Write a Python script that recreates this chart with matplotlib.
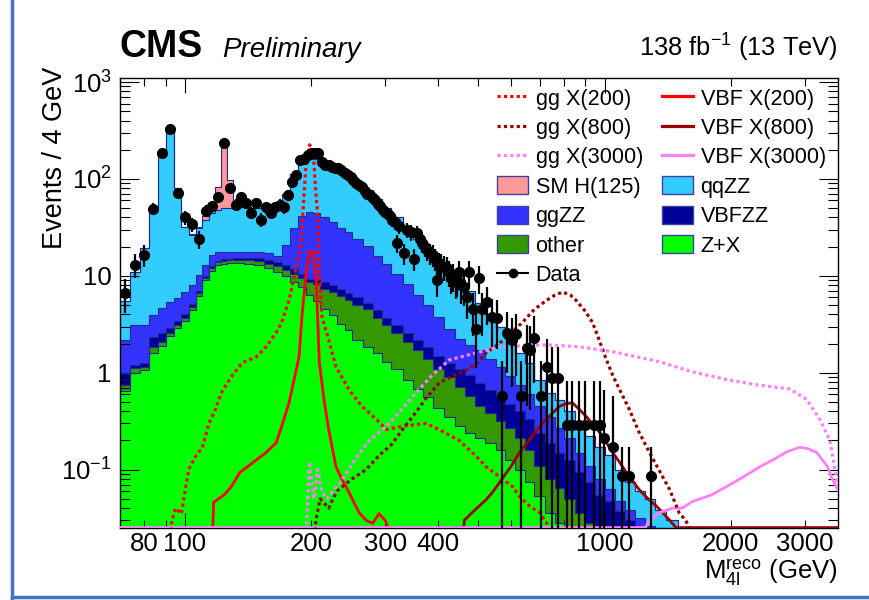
import numpy as np
import matplotlib
matplotlib.use("Agg")
import matplotlib.pyplot as plt
from matplotlib.lines import Line2D
from matplotlib.patches import Patch
from matplotlib.ticker import FixedLocator, FuncFormatter, LogLocator, NullFormatter

plt.rcParams['font.family'] = ['Liberation Sans', 'DejaVu Sans']
plt.rcParams['mathtext.fontset'] = 'custom'
plt.rcParams['mathtext.rm'] = 'Liberation Sans'
plt.rcParams['mathtext.it'] = 'Liberation Sans:italic'
plt.rcParams['mathtext.bf'] = 'Liberation Sans:bold'

# ---------------- background bins (events / 4 GeV) ----------------
bin_edges = [70, 74, 78, 82, 86, 90, 94, 98, 102, 106, 110, 114, 118, 122, 126, 130,
             138, 146, 154, 162, 170, 178, 186, 194, 202, 210, 220, 230, 240, 250,
             265, 280, 295, 310, 330, 350, 370, 390, 415, 440, 465, 490, 520, 550,
             580, 610, 645, 680, 720, 760, 800, 850, 900, 950, 1000, 1060, 1120,
             1180, 1250, 1320, 1400, 1500, 1600]

zx = [0.65, 1.0, 1.07, 1.6, 1.9, 2.4, 2.9, 3.4, 4.4, 6.2,
      9.0, 11.3, 12.8, 13.2, 13.5, 13.6, 13.4, 12.9, 12.0, 11.0,
      9.9, 8.7, 7.6, 6.3, 5.5, 4.6, 3.9, 3.2, 2.75, 2.2,
      1.85, 1.58, 1.3, 1.1, 0.85, 0.68, 0.56, 0.43, 0.35, 0.28,
      0.24, 0.21, 0.19, 0.16, 0.125, 0.1, 0.075, 0.053, 0.036, 0.028,
      0, 0, 0, 0, 0, 0, 0, 0, 0, 0, 0, 0]

other = [0.10, 0.12, 0.08, 0.25, 0.2, 0.2, 0.2, 0.3, 0.4, 0.4,
         0.6, 0.7, 1.0, 1.0, 0.9, 1.0, 1.1, 1.3, 1.4, 1.5,
         1.7, 1.8, 1.9, 2.3, 2.7, 2.8, 2.9, 3.0, 2.85, 2.8,
         2.65, 2.12, 1.8, 1.5, 1.25, 1.02, 0.84, 0.67, 0.55, 0.44,
         0.34, 0.24, 0.19, 0.16, 0.145, 0.11, 0.085, 0.057, 0.044, 0.037,
         0.05, 0.036, 0.028, 0.02, 0, 0, 0, 0, 0, 0, 0, 0]

vbfzz = [0.25, 0.08, 0.10, 0.5, 0.5, 0.3, 0.3, 0.3, 0.3, 0.4,
         0.4, 0.5, 0.5, 0.6, 0.6, 0.7, 0.8, 1.0, 1.2, 1.3,
         1.4, 1.3, 0.9, 0.7, 0.8, 1.2, 1.3, 1.2, 1.1, 1.0,
         0.8, 0.7, 0.6, 0.5, 0.5, 0.5, 0.45, 0.4, 0.37, 0.38,
         0.37, 0.34, 0.29, 0.25, 0.21, 0.19, 0.17, 0.13, 0.11, 0.085,
         0.075, 0.059, 0.047, 0.035, 0.047, 0.037, 0.03, 0.022, 0, 0, 0, 0]

ggzz = [1.2, 1.9, 1.85, 1.6, 2.1, 2.5, 2.5, 2.8, 3.0, 3.2,
        3.0, 4.0, 3.3, 3.0, 2.8, 2.5, 2.5, 2.4, 2.4, 2.4,
        8.0, 19.2, 30.6, 36.2, 36.0, 31.4, 27.9, 24.1, 21.7, 18.0,
        15.2, 11.6, 9.6, 7.3, 5.6, 4.1, 3.15, 2.3, 1.53, 1.15,
        1.0, 0.94, 0.73, 0.58, 0.44, 0.35, 0.27, 0.21, 0.16, 0.12,
        0.085, 0.055, 0.035, 0.025, 0.016, 0.011, 0.008, 0.01, 0.026, 0.02, 0, 0]

qqzz = [3.3, 7.9, 16.3, 46, 172, 315, 75, 25, 18, 21,
        25, 28, 30, 32, 32, 33, 32, 32, 33, 36,
        49, 81, 107, 116, 115, 110, 103, 90, 78, 68,
        57, 46, 37, 29.6, 22.8, 17.7, 14, 10.7, 8.7, 6.75,
        5.05, 3.57, 2.6, 1.85, 1.38, 0.85, 0.65, 0.4, 0.27, 0.25,
        0.19, 0.13, 0.11, 0.09, 0.077, 0.052, 0.037, 0.028, 0.024, 0.018, 0.03, 0.022]

smh125 = [0, 0, 0, 0, 0, 0, 0, 0, 1.0, 1.0,
          3.0, 3.4, 35, 175, 48, 3.0, 0, 0, 0, 0,
          0, 0, 0, 0, 0, 0, 0, 0, 0, 0,
          0, 0, 0, 0, 0, 0, 0, 0, 0, 0,
          0, 0, 0, 0, 0, 0, 0, 0, 0, 0,
          0, 0, 0, 0, 0, 0, 0, 0, 0, 0, 0, 0]

# ---------------- signal hypotheses ----------------
ggx200_mass = [90, 93, 95, 98, 100, 102, 106, 110, 114, 118, 122, 129, 137, 148, 156, 165,
               170, 177, 184, 189, 194, 198, 202, 205, 207, 209, 212, 220, 229, 246, 264,
               286, 302, 329, 376, 410, 450, 495, 522, 561, 603, 627, 663, 700, 728, 760]
ggx200_val = [0, 0.03, 0.04, 0.035, 0.06, 0.1, 0.137, 0.17, 0.3, 0.41, 0.62, 0.91, 1.27, 1.46,
              1.85, 2.6, 3.3, 5.6, 12, 22, 130, 225, 200, 72, 45, 11.5, 3.8, 2.2, 1.15, 0.67,
              0.45, 0.33, 0.26, 0.28, 0.3, 0.25, 0.2, 0.137, 0.107, 0.085, 0.067, 0.053,
              0.042, 0.036, 0.028, 0]

vbfx200_mass = [116.5, 117, 124, 129, 135, 145, 156, 165, 170, 177, 182, 187, 190, 194, 198,
                202, 205, 209, 215, 220, 229, 237, 246, 260, 270, 280, 290, 300, 305, 310]
vbfx200_val = [0, 0.046, 0.055, 0.067, 0.093, 0.118, 0.15, 0.19, 0.28, 0.49, 0.85, 1.46, 3.8,
               9.8, 18, 18, 11.5, 1.27, 0.49, 0.26, 0.107, 0.079, 0.058, 0.036, 0.03, 0.028,
               0.035, 0.03, 0.02, 0]

ggx800_mass = [200, 205, 210, 220, 230, 250, 270, 290, 310, 330, 355, 376, 404, 440, 476, 500,
               522, 561, 600, 637, 680, 728, 760, 795, 830, 855, 900, 936, 970, 1010, 1050,
               1086, 1145, 1210, 1270, 1330, 1430, 1505, 1560, 1620, 1680]
ggx800_val = [0, 0.03, 0.05, 0.04, 0.06, 0.08, 0.1, 0.14, 0.18, 0.26, 0.39, 0.55, 0.79, 0.95,
              1.1, 1.3, 1.6, 2.0, 2.6, 3.3, 4.5, 5.6, 6.3, 6.8, 6.3, 5.6, 4.3, 3.3, 2.2, 1.36,
              0.9, 0.67, 0.42, 0.24, 0.16, 0.11, 0.062, 0.036, 0.03, 0.022, 0]

vbfx800_mass = [440, 462, 463, 480, 502, 522, 540, 561, 600, 627, 660, 710, 750, 780, 810, 838,
                870, 906, 940, 975, 1010, 1045, 1085, 1128, 1170, 1210, 1270, 1330, 1430, 1480,
                3600]
vbfx800_val = [0, 0, 0.03, 0.035, 0.042, 0.049, 0.058, 0.073, 0.11, 0.15, 0.2, 0.3, 0.38, 0.45,
               0.48, 0.49, 0.42, 0.35, 0.29, 0.24, 0.19, 0.15, 0.12, 0.093, 0.075, 0.062, 0.05,
               0.042, 0.03, 0, 0]

ggx3000_mass = [190, 195, 198, 203, 207, 212, 218, 225, 237, 256, 275, 302, 324, 355, 389, 427,
                494, 561, 650, 728, 871, 1045, 1352, 1621, 1954, 2307, 2763, 3033, 3258, 3443,
                3574, 3600]
ggx3000_val = [0, 0.03, 0.12, 0.05, 0.1, 0.06, 0.05, 0.06, 0.079, 0.133, 0.2, 0.28, 0.39, 0.62,
               0.95, 1.36, 1.6, 1.85, 1.9, 1.94, 1.85, 1.65, 1.3, 1.02, 0.85, 0.75, 0.68, 0.53,
               0.33, 0.2, 0.08, 0.06]

vbfx3000_mass = [70, 1250, 1280, 1352, 1450, 1528, 1621, 1800, 1954, 2150, 2344, 2550, 2718,
                 2917, 3050, 3205, 3400, 3490, 3600]
vbfx3000_val = [0, 0, 0.03, 0.036, 0.04, 0.04, 0.047, 0.055, 0.067, 0.085, 0.107, 0.13, 0.153,
                0.17, 0.165, 0.15, 0.107, 0.08, 0.062]

# ---------------- observed data (events / 4 GeV) ----------------
data_mass = [72, 76, 80, 84, 88, 92, 96, 100, 104, 108, 112, 116, 120, 124, 128, 132, 136, 140,
             144, 148, 152, 156, 160, 164, 168, 172, 176, 180, 184, 188, 192, 196, 200, 204,
             208, 212, 216, 220, 224, 228, 232, 236, 240, 244, 248, 252, 256, 260, 264, 268,
             272, 276, 280, 284, 288, 292, 296, 300, 304, 308, 312, 316, 320, 324,
             332, 338, 345, 352, 357, 363, 368, 373, 378, 384, 389, 394, 399, 404, 408, 414,
             420, 425, 430, 436, 442, 446, 450, 456, 463, 470, 476, 485, 495, 502, 511, 525,
             540, 555, 570, 584, 603, 615, 633, 652, 663, 680, 707, 728, 750, 774, 815, 838,
             871, 900, 946, 975, 997, 1045, 1100, 1145, 1290]
data_val = [6.7, 13, 16.5, 49, 186, 325, 72, 40, 34, 24, 47, 52, 65, 235, 81, 54, 65, 56,
            45, 56, 38, 51, 45, 51, 54, 51, 68, 93, 110, 157, 160, 177, 186, 186,
            186, 150, 139, 139, 133, 130, 130, 123, 115, 110, 105, 98, 91, 87, 83, 75,
            70, 68, 63, 60, 55, 52, 48, 46, 43, 41, 38, 36, 22, 33,
            17, 30, 28, 15, 27.6, 24, 22, 20, 18.5, 17, 16.5, 15, 9, 13.6, 13, 12.4,
            12, 11, 9.5, 10, 8.7, 9, 11, 8, 7.7, 6, 11, 4.5, 2.8, 9.5, 4.5, 5.4,
            3.8, 3.7, 0.57, 2.6, 2.2, 2.5, 0.57, 1.8, 1.73, 2.3, 0.57, 1.15, 0.89, 0.89, 0.29, 0.29,
            0.29, 0.29, 0.29, 0.29, 0.21, 0.17, 0.085, 0.085, 0.085]

# ---------------- styling ----------------
C_ZX, C_OTHER, C_VBFZZ = '#00ff00', '#339900', '#000099'
C_GGZZ, C_QQZZ, C_SMH = '#3333ff', '#33ccff', '#ff9999'
C_RED, C_DRED, C_VIOL = '#ff0000', '#990000', '#ff80ff'
EDGE = '#202a8f'

XMIN, XMAX = 70, 3600
YMIN, YMAX = 0.025, 1100

fig = plt.figure(figsize=(8.69, 6.0), dpi=100)
ax = fig.add_axes([120 / 869, 72 / 600, 718 / 869, 450 / 600])
ax.set_xscale('log')
ax.set_yscale('log')
ax.set_xlim(XMIN, XMAX)
ax.set_ylim(YMIN, YMAX)

# stacked backgrounds, bottom to top
edges = np.array(bin_edges, float)
floor = 1e-4
cum = np.zeros(len(edges) - 1)
stack = [(zx, C_ZX), (other, C_OTHER), (vbfzz, C_VBFZZ),
         (ggzz, C_GGZZ), (qqzz, C_QQZZ), (smh125, C_SMH)]
tops = []
for vals, col in stack:
    top = cum + np.array(vals, float)
    ax.stairs(np.maximum(top, floor), edges, baseline=np.maximum(cum, floor),
              fill=True, color=col, lw=0, zorder=1)
    tops.append(top)
    cum = top
for top in tops:
    ax.stairs(np.maximum(top, floor), edges, baseline=None, color=EDGE, lw=0.8, zorder=2)

DOT = (0, (1, 1))


def gg_curve(m, v, col):
    v = np.array(v, float)
    v = np.where(v > 0, v, floor)
    ax.plot(m, v, color=col, lw=2.3, ls=DOT, dash_capstyle='butt', zorder=4)


def vbf_curve(m, v, col):
    v = np.maximum(np.array(v, float), YMIN * 1.01)
    ax.plot(m, v, color=col, lw=2.0, zorder=4, solid_joinstyle='miter')


vbf_curve(vbfx200_mass, vbfx200_val, C_RED)
vbf_curve(vbfx800_mass, vbfx800_val, C_DRED)
vbf_curve(vbfx3000_mass, vbfx3000_val, C_VIOL)
gg_curve(ggx200_mass, ggx200_val, C_RED)
gg_curve(ggx800_mass, ggx800_val, C_DRED)
gg_curve(ggx3000_mass, ggx3000_val, C_VIOL)

# data with Poisson-like error bars
dm = np.array(data_mass, float)
dv = np.array(data_val, float)
err = np.where(dv < 0.15, dv, np.sqrt(dv))
lo = np.minimum(err, dv - YMIN * 0.5)
ax.errorbar(dm, dv, yerr=[lo, err], fmt='o', color='k', ms=7, elinewidth=1.6,
            capsize=0, zorder=5)

# axes, ticks
ax.xaxis.set_major_locator(FixedLocator([100, 1000]))
ax.xaxis.set_minor_locator(FixedLocator([70, 80, 90, 200, 300, 400, 500, 600, 700, 800, 900,
                                         2000, 3000]))
shown = {80, 200, 300, 400, 2000, 3000}
ax.xaxis.set_major_formatter(FuncFormatter(lambda v, p: f'{int(round(v))}'))
ax.xaxis.set_minor_formatter(FuncFormatter(
    lambda v, p: f'{int(round(v))}' if int(round(v)) in shown else ''))

ylabels = {0.1: r'$10^{-1}$', 1: '1', 10: '10', 100: r'$10^{2}$', 1000: r'$10^{3}$'}
ax.yaxis.set_major_locator(FixedLocator(list(ylabels.keys())))
ax.yaxis.set_major_formatter(FuncFormatter(
    lambda v, p: next((s for k, s in ylabels.items() if abs(v / k - 1) < 1e-6), '')))
ax.yaxis.set_minor_locator(LogLocator(base=10, subs=np.arange(2, 10)))
ax.yaxis.set_minor_formatter(NullFormatter())

ax.tick_params(which='both', direction='in', top=True, right=True, width=0.8,
               labelsize=18.5, colors='k')
ax.tick_params(axis='x', which='major', length=11, pad=3)
ax.tick_params(axis='x', which='minor', length=6, pad=3)
ax.tick_params(axis='y', which='major', length=14, pad=6)
ax.tick_params(axis='y', which='minor', length=7)
for s in ax.spines.values():
    s.set_linewidth(1.0)
ax.set_zorder(2)

# legends (two columns)
EDGE_BOX = '#4040a0'
h_col1 = [Line2D([], [], color=C_RED, lw=2.3, ls=DOT),
          Line2D([], [], color=C_DRED, lw=2.3, ls=DOT),
          Line2D([], [], color=C_VIOL, lw=2.3, ls=DOT),
          Patch(facecolor=C_SMH, edgecolor=EDGE_BOX, lw=1),
          Patch(facecolor=C_GGZZ, edgecolor=EDGE_BOX, lw=1),
          Patch(facecolor=C_OTHER, edgecolor=EDGE_BOX, lw=1),
          Line2D([], [], color='k', lw=1.5, marker='o', ms=6)]
l_col1 = ['gg X(200)', 'gg X(800)', 'gg X(3000)', 'SM H(125)', 'ggZZ', 'other', 'Data']
h_col2 = [Line2D([], [], color=C_RED, lw=2.3),
          Line2D([], [], color=C_DRED, lw=2.3),
          Line2D([], [], color=C_VIOL, lw=2.3),
          Patch(facecolor=C_QQZZ, edgecolor=EDGE_BOX, lw=1),
          Patch(facecolor=C_VBFZZ, edgecolor=EDGE_BOX, lw=1),
          Patch(facecolor=C_ZX, edgecolor=EDGE_BOX, lw=1)]
l_col2 = ['VBF X(200)', 'VBF X(800)', 'VBF X(3000)', 'qqZZ', 'VBFZZ', 'Z+X']
common = dict(loc='upper left', frameon=False, fontsize=15.6, borderpad=0, borderaxespad=0,
              handlelength=1.45, handleheight=0.92, handletextpad=0.33, labelspacing=0.36)
leg1 = fig.legend(h_col1, l_col1, bbox_to_anchor=(497 / 869, 1 - 88 / 600), **common)
leg2 = fig.legend(h_col2, l_col2, bbox_to_anchor=(662 / 869, 1 - 88 / 600), **common)

# titles and axis labels
fig.text(120 / 869, 1 - 57 / 600, 'CMS', fontsize=27, fontweight='bold', va='baseline')
fig.text(222 / 869, 1 - 57 / 600, 'Preliminary', fontsize=20, style='italic', va='baseline')
fig.text(838 / 869, 1 - 57 / 600, r'138 fb$^{-1}$ (13 TeV)', fontsize=18.4, ha='right',
         va='baseline')
fig.text(55 / 869, 1 - 67 / 600, 'Events / 4 GeV', fontsize=19.5, rotation=90, ha='center',
         va='top')
fig.text(838 / 869, 1 - 580 / 600,
         r'M$_{\mathregular{4l}}^{\mathregular{reco}}$ (GeV)', fontsize=18.5, ha='right',
         va='baseline')

# slide frame
BLUE = '#4472c4'
for xs, ys in [((12, 12), (0, 598)), ((12, 869), (597, 597))]:
    fig.add_artist(Line2D([x / 869 for x in xs], [1 - y / 600 for y in ys], color=BLUE,
                          lw=2.5, transform=fig.transFigure))

fig.savefig('out.png', dpi=100)
